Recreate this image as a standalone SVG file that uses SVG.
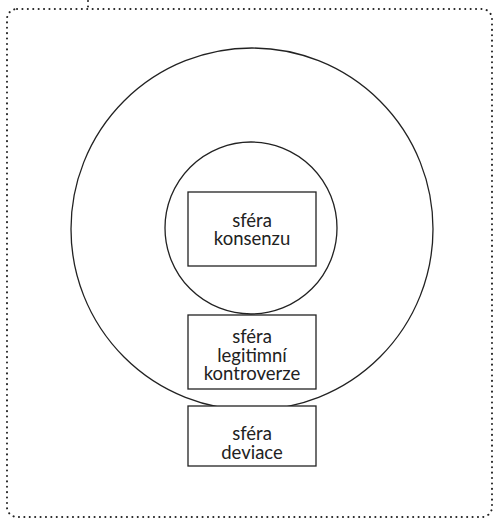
<svg xmlns="http://www.w3.org/2000/svg" width="493" height="518" viewBox="0 0 493 518">
<style>
.frame{fill:none;stroke:#222;stroke-width:2;stroke-dasharray:0.1 5.3;stroke-linecap:round}
.ring{fill:none;stroke:#222;stroke-width:1.3}
.box{fill:#fff;stroke:#222;stroke-width:1.3}
.lbl{font-family:Lato,"Open Sans","Liberation Sans",sans-serif;font-size:18.5px;fill:#222;text-anchor:middle}
</style>
<rect width="493" height="518" fill="#fff"/>
<g id="frame">
<rect class="frame" x="7" y="9" width="485" height="508" rx="10"/>
<line class="frame" x1="88" y1="1" x2="88" y2="9"/>
</g>
<g id="sphere-outer"><circle class="ring" cx="252" cy="229" r="181"/></g>
<g id="sphere-inner"><circle class="ring" cx="251" cy="228" r="86"/></g>
<g id="konsenzus">
<rect class="box" x="188" y="192" width="128" height="74"/>
<text class="lbl" x="252" y="226.5"><tspan x="252">sféra</tspan><tspan x="252" dy="18.5">konsenzu</tspan></text>
</g>
<g id="kontroverze">
<rect class="box" x="188" y="315" width="128" height="74"/>
<text class="lbl" x="252" y="343"><tspan x="252">sféra</tspan><tspan x="252" dy="18.5">legitimní</tspan><tspan x="252" dy="18.5">kontroverze</tspan></text>
</g>
<g id="deviace">
<rect class="box" x="188" y="406" width="128" height="60"/>
<text class="lbl" x="252" y="440"><tspan x="252">sféra</tspan><tspan x="252" dy="18.5">deviace</tspan></text>
</g>
<g id="connectors"/>
</svg>
